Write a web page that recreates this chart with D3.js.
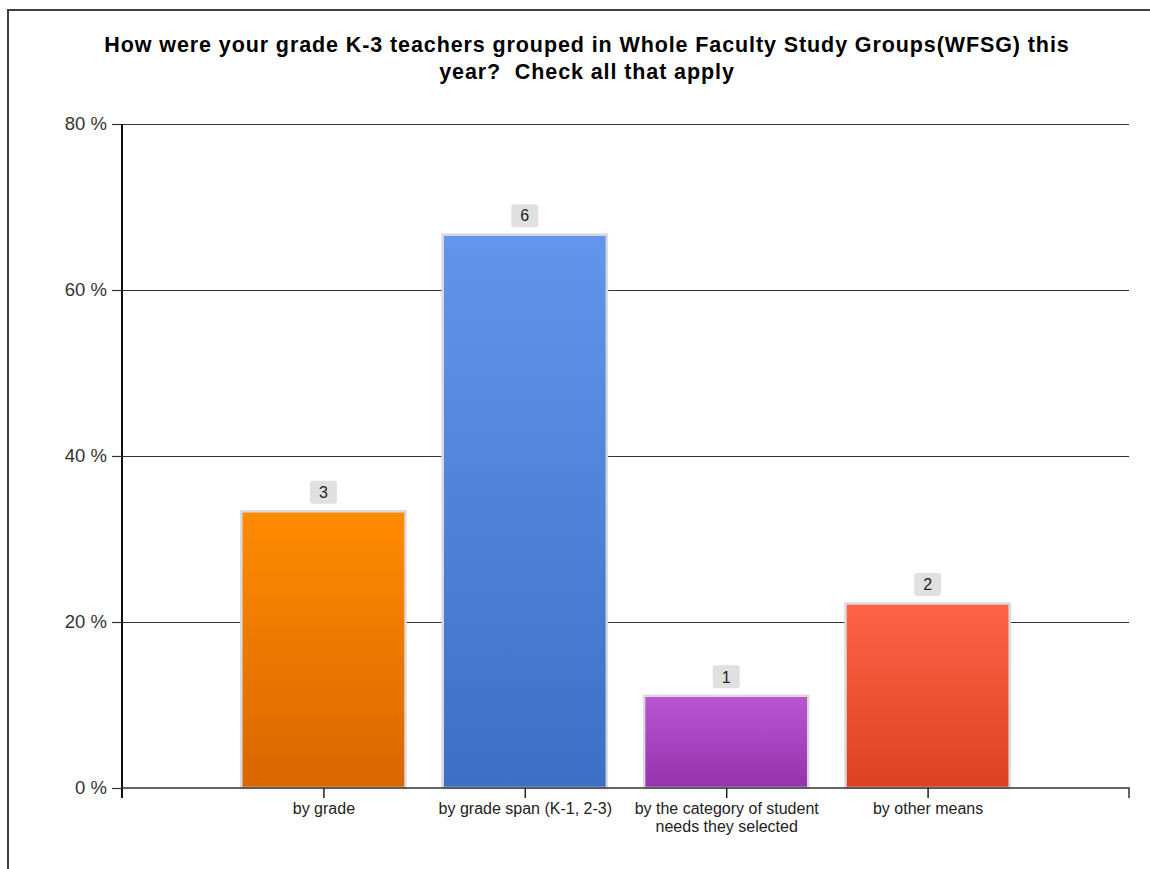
<!DOCTYPE html>
<html>
<head>
<meta charset="utf-8">
<script src="https://cdn.jsdelivr.net/npm/d3@7"></script>
<style>
  html, body { margin: 0; padding: 0; background: #fff; }
  svg { display: block; font-family: "Liberation Sans", Arial, sans-serif; }
</style>
</head>
<body>
<div id="chart"></div>
<script>
(function () {
  'use strict';

  /* ---------------------------------------------------------
     Data
  --------------------------------------------------------- */
  var TITLE_LINES = [
    'How were your grade K-3 teachers grouped in Whole Faculty Study Groups(WFSG) this',
    'year?  Check all that apply'
  ];
  var CATEGORIES = [
    ['by grade'],
    ['by grade span (K-1, 2-3)'],
    ['by the category of student', 'needs they selected'],
    ['by other means']
  ];
  var COUNTS = [3, 6, 1, 2];
  var RESPONDENTS = 9;
  var Y_TICKS = [0, 20, 40, 60, 80];
  var COLORS = [
    { top: '#ff8c00', bottom: '#d96600' },
    { top: '#6495ed', bottom: '#3d6fc6' },
    { top: '#ba55d3', bottom: '#9433ab' },
    { top: '#ff6347', bottom: '#dc4123' }
  ];

  var W = 1150, H = 869;
  var left = 122, right = 1129, top = 124, bottom = 788;

  var svg = d3.select('#chart').append('svg')
    .attr('width', W).attr('height', H);

  /* frame */
  svg.append('path')
    .attr('d', 'M8,' + H + 'V10H' + W)
    .attr('fill', 'none')
    .attr('stroke', '#404040')
    .attr('stroke-width', 2);

  /* title */
  svg.append('text')
    .attr('x', 587).attr('y', 52)
    .attr('text-anchor', 'middle')
    .attr('font-weight', 'bold')
    .attr('font-size', 21.5)
    .attr('letter-spacing', 0.9)
    .style('white-space', 'pre')
    .attr('fill', '#000')
    .selectAll('tspan')
    .data(TITLE_LINES)
    .join('tspan')
    .attr('x', 587)
    .attr('dy', function (d, i) { return i ? 27 : 0; })
    .text(function (d) { return d; });

  var idx = CATEGORIES.map(function (d, i) { return i; });
  var x = d3.scalePoint().domain(idx).range([left, right]).padding(1);
  var y = d3.scaleLinear().domain([0, 80]).range([bottom, top]);
  var barW = x.step() * 0.815;

  var defs = svg.append('defs');
  COLORS.forEach(function (c, i) {
    var g = defs.append('linearGradient')
      .attr('id', 'grad' + i)
      .attr('x1', 0).attr('y1', 0).attr('x2', 0).attr('y2', 1);
    g.append('stop').attr('offset', '0%').attr('stop-color', c.top);
    g.append('stop').attr('offset', '100%').attr('stop-color', c.bottom);
  });

  /* gridlines */
  svg.append('g')
    .selectAll('line')
    .data(Y_TICKS.filter(function (t) { return t > 0; }))
    .join('line')
    .attr('x1', left).attr('x2', right)
    .attr('y1', function (d) { return y(d) + 0.5; })
    .attr('y2', function (d) { return y(d) + 0.5; })
    .attr('stroke', '#333')
    .attr('stroke-width', 1.2);

  /* bars */
  svg.append('g')
    .selectAll('rect')
    .data(COUNTS)
    .join('rect')
    .attr('x', function (d, i) { return x(i) - barW / 2; })
    .attr('y', function (d) { return y(d / RESPONDENTS * 100); })
    .attr('width', barW)
    .attr('height', function (d) { return bottom - y(d / RESPONDENTS * 100); })
    .attr('fill', function (d, i) { return 'url(#grad' + i + ')'; })
    .attr('stroke', '#dadada')
    .attr('stroke-width', 2.5);

  /* value labels */
  var lab = svg.append('g')
    .selectAll('g')
    .data(COUNTS)
    .join('g')
    .attr('transform', function (d, i) {
      return 'translate(' + x(i) + ',' + (y(d / RESPONDENTS * 100) - 19) + ')';
    });
  lab.append('rect')
    .attr('x', -13.5).attr('y', -11.5)
    .attr('width', 27).attr('height', 23)
    .attr('rx', 3)
    .attr('fill', '#e0e0e0');
  lab.append('text')
    .attr('text-anchor', 'middle')
    .attr('dy', '0.36em')
    .attr('font-size', 16)
    .attr('fill', '#222')
    .text(function (d) { return d; });

  /* y axis */
  var yAxis = svg.append('g')
    .attr('transform', 'translate(' + left + ',0)')
    .call(d3.axisLeft(y).tickValues(Y_TICKS).tickSize(10).tickPadding(5)
      .tickFormat(function (d) { return d + ' %'; }));
  yAxis.select('.domain').attr('stroke', '#111').attr('stroke-width', 2)
    .attr('d', 'M0,' + top + 'V' + (bottom + 10));
  yAxis.selectAll('.tick line').attr('stroke', '#333').attr('stroke-width', 1.2);
  yAxis.selectAll('.tick text')
    .attr('font-size', 18.5)
    .attr('fill', '#333')
    .attr('font-family', '"Liberation Sans", Arial, sans-serif');

  /* x axis */
  var xAxis = svg.append('g')
    .attr('transform', 'translate(0,' + bottom + ')')
    .call(d3.axisBottom(x).tickSize(10).tickFormat(''));
  xAxis.select('.domain').attr('stroke', '#333').attr('stroke-width', 1.5)
    .attr('d', 'M' + left + ',0H' + right + 'V10');
  xAxis.selectAll('.tick line').attr('stroke', '#222').attr('stroke-width', 1.5);
  xAxis.selectAll('.tick').append('text')
    .attr('text-anchor', 'middle')
    .attr('font-size', 16)
    .attr('fill', '#222')
    .attr('font-family', '"Liberation Sans", Arial, sans-serif')
    .selectAll('tspan')
    .data(function (d) { return CATEGORIES[d]; })
    .join('tspan')
    .attr('x', 0)
    .attr('y', function (d, i) { return 26 + i * 18; })
    .text(function (d) { return d; });
})();
</script>
</body>
</html>
